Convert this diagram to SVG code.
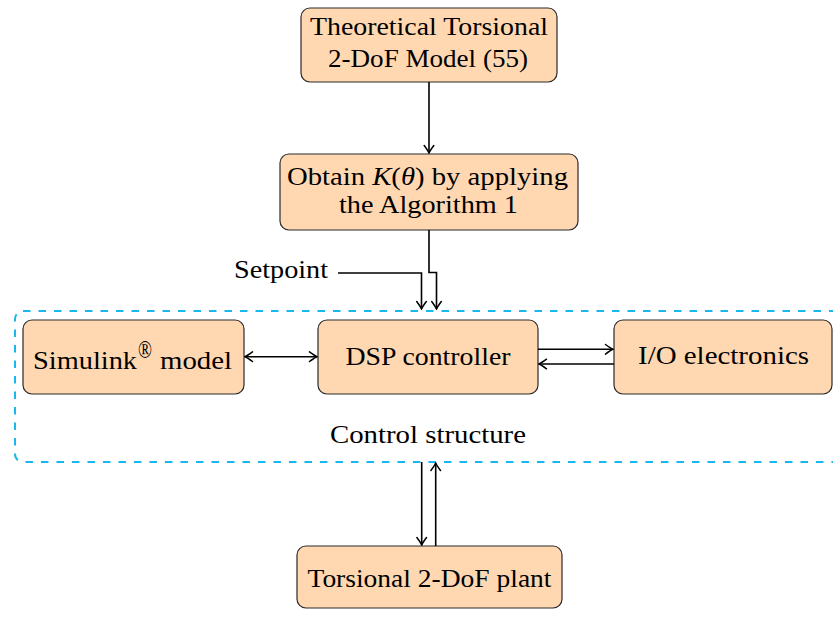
<svg xmlns="http://www.w3.org/2000/svg" width="833" height="619" viewBox="0 0 833 619">
<style>
.box{fill:#FFD8B2;stroke:#2a2a2a;stroke-width:1.2}
.t{font-family:"Liberation Serif","DejaVu Serif",serif;font-size:25.5px;fill:#000}
.c{fill:none;stroke:#000;stroke-width:1.6}
.dash{fill:none;stroke:#18B8EC;stroke-width:2;stroke-dasharray:7.5 8}
</style>
<defs>
<marker id="ah" viewBox="-9 -6 10 12" refX="0" refY="0" markerWidth="10" markerHeight="12" markerUnits="userSpaceOnUse" orient="auto-start-reverse">
<path d="M -7.5 -4.8 Q -2.2 -0.9 0 0 Q -2.2 0.9 -7.5 4.8" fill="none" stroke="#000" stroke-width="1.5" stroke-linecap="round"/>
</marker>
</defs>
<rect class="dash" x="15" y="311" width="840" height="151" rx="8"/>
<g id="n_theory">
<rect class="box" x="301" y="8" width="256" height="74" rx="9"/>
<text class="t" x="429" y="35" text-anchor="middle" textLength="238" lengthAdjust="spacingAndGlyphs">Theoretical Torsional</text>
<text class="t" x="428" y="67" text-anchor="middle" textLength="200" lengthAdjust="spacingAndGlyphs">2-DoF Model (55)</text>
</g>
<g id="n_obtain">
<rect class="box" x="280" y="154" width="298" height="76" rx="9"/>
<text class="t" x="287" y="185" textLength="281" lengthAdjust="spacingAndGlyphs">Obtain <tspan font-style="italic">K</tspan>(<tspan font-style="italic">θ</tspan>) by applying</text>
<text class="t" x="428.5" y="213" text-anchor="middle" textLength="179" lengthAdjust="spacingAndGlyphs">the Algorithm 1</text>
</g>
<g id="n_simulink">
<rect class="box" x="23" y="320" width="221" height="74" rx="9"/>
<text class="t" x="33" y="369" textLength="104" lengthAdjust="spacingAndGlyphs">Simulink</text>
<text class="t" x="138" y="358" font-size="17" textLength="14" lengthAdjust="spacingAndGlyphs">®</text>
<text class="t" x="160" y="369" textLength="72" lengthAdjust="spacingAndGlyphs">model</text>
</g>
<g id="n_dsp">
<rect class="box" x="318" y="320" width="220" height="74" rx="9"/>
<text class="t" x="428" y="365" text-anchor="middle" textLength="165" lengthAdjust="spacingAndGlyphs">DSP controller</text>
</g>
<g id="n_io">
<rect class="box" x="614" y="320" width="218" height="74" rx="9"/>
<text class="t" x="723.5" y="364" text-anchor="middle" textLength="171" lengthAdjust="spacingAndGlyphs">I/O electronics</text>
</g>
<g id="n_plant">
<rect class="box" x="297" y="546" width="265" height="62" rx="9"/>
<text class="t" x="429.5" y="587" text-anchor="middle" textLength="244" lengthAdjust="spacingAndGlyphs">Torsional 2-DoF plant</text>
</g>
<g id="labels">
<text class="t" x="234" y="278" textLength="94" lengthAdjust="spacingAndGlyphs">Setpoint</text>
<text class="t" x="428" y="443" text-anchor="middle" textLength="196" lengthAdjust="spacingAndGlyphs">Control structure</text>
</g>
<g id="connectors">
<path class="c" d="M 429 82 V 153" marker-end="url(#ah)"/>
<path class="c" d="M 429 230 V 272.5 H 436.5 V 309" marker-end="url(#ah)"/>
<path class="c" d="M 338 273 H 421.5 V 309" marker-end="url(#ah)"/>
<path class="c" d="M 245 356.7 H 317" marker-start="url(#ah)" marker-end="url(#ah)"/>
<path class="c" d="M 538 349.3 H 613" marker-end="url(#ah)"/>
<path class="c" d="M 614 364 H 539" marker-end="url(#ah)"/>
<path class="c" d="M 421.7 462 V 545" marker-end="url(#ah)"/>
<path class="c" d="M 435.7 546 V 463" marker-end="url(#ah)"/>
</g>
</svg>
